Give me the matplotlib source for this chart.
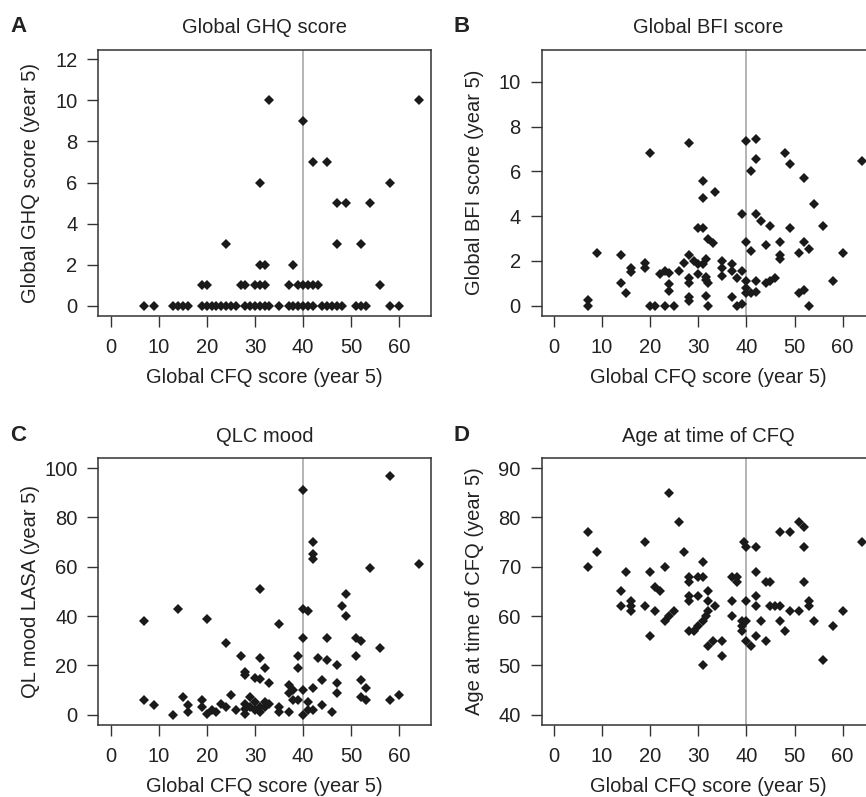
import matplotlib
matplotlib.use("Agg")
import matplotlib.pyplot as plt

plt.rcParams["font.family"] = ["Liberation Sans", "DejaVu Sans"]

# Panel A: Global GHQ score vs CFQ
ghq_x = [7, 9, 13, 14, 15, 16, 19, 20, 21, 22, 23, 24, 25, 26, 28, 29, 30, 31, 32, 33,
         35, 37, 38, 39, 40, 41, 42, 44, 45, 46, 47, 48, 51, 52, 53, 58, 60,
         19, 20, 27, 28, 30, 31, 32, 37, 39, 40, 41, 42, 43, 56,
         31, 32, 38,
         24, 47, 52,
         47, 49, 54,
         31, 58,
         42, 45,
         40,
         33, 64]
ghq_y = [0] * 37 + [1] * 14 + [2] * 3 + [3] * 3 + [5] * 3 + [6] * 2 + [7] * 2 + [9] + [10] * 2

# Panel B: Global BFI score vs CFQ
bfi_x = [7, 7, 9, 14, 14, 15, 16, 16, 19, 19, 20, 20, 21, 22, 23, 23, 24, 24, 24, 25,
         26, 27, 28, 28, 28, 28, 28, 28, 29, 30, 30, 30, 31, 31, 31, 31, 31.5, 31.5, 31.5, 31.5,
         32, 32, 32, 33, 33.5, 35, 35, 35, 37, 37, 37, 38, 38, 39, 39, 39, 40, 40, 40, 40,
         40, 41, 41, 41, 42, 42, 42, 42, 42, 43, 44, 44, 45, 45, 46, 47, 47, 47, 48, 49,
         49, 51, 51, 52, 52, 52, 53, 53, 54, 56, 58, 60, 64]
bfi_y = [0.25, 0, 2.35, 1.0, 2.25, 0.55, 1.7, 1.5, 1.9, 1.7, 6.8, 0, 0, 1.4, 1.55, 0, 1.45, 0.95, 0.65, 0,
         1.55, 1.9, 7.25, 2.25, 1.25, 1.0, 0.4, 0.2, 2.0, 1.85, 3.45, 1.4, 5.55, 4.8, 3.45, 1.85, 1.3, 1.15, 2.1, 0.45,
         3.0, 1.0, 0, 2.8, 5.1, 2.0, 1.7, 1.35, 1.85, 1.55, 0.4, 1.25, 0, 4.1, 1.55, 0.1, 7.35, 2.85, 1.1, 0.8,
         0.55, 6.0, 2.45, 0.55, 7.45, 6.55, 4.1, 1.1, 0.6, 3.8, 2.7, 1.0, 3.55, 1.1, 1.25, 2.85, 2.25, 2.1, 6.8, 6.35,
         3.45, 2.35, 0.55, 5.7, 2.85, 0.7, 2.55, 0, 4.55, 3.55, 1.1, 2.35, 6.45]

# Panel C: QLC mood (QL mood LASA) vs CFQ
mood_x = [7, 7, 9, 13, 14, 15, 16, 16, 19, 19, 20, 20, 21, 22, 23, 24, 24, 25, 26, 27,
          28, 28, 28, 28, 28, 29, 29, 30, 30, 30, 31, 31, 31, 31, 31, 32, 32, 32, 33, 33,
          35, 35, 35, 37, 37, 37, 38, 38, 39, 39, 39, 40, 40, 40, 40, 40, 41, 41, 41, 42,
          42, 42, 42, 42, 43, 44, 44, 45, 45, 46, 47, 47, 47, 48, 49, 49, 51, 51, 52, 52,
          52, 53, 53, 54, 56, 58, 58, 60, 64]
mood_y = [38, 6, 4, 0, 43, 7, 4, 1, 6, 3, 39, 0.5, 2, 1, 4.5, 3, 29, 8, 2, 24,
          17.5, 16, 4.5, 2.5, 0.5, 7, 3, 15, 5, 2, 14.5, 23, 51, 3, 1, 19, 5, 3, 13, 4.5,
          37, 3, 1, 12, 9, 1, 10, 6, 24, 19, 6, 91, 43, 31, 10, 0, 42, 5, 2, 70,
          65, 63, 11, 2, 23, 14, 4, 31, 22, 1, 20, 13, 9, 44, 49, 40, 31, 24, 30, 14,
          7, 11, 6, 59.5, 27, 97, 6, 8, 61]

# Panel D: age at time of CFQ vs CFQ
age_x = [7, 7, 9, 14, 14, 15, 16, 16, 16, 19, 19, 20, 20, 21, 21, 22, 23, 23, 24, 24,
         25, 26, 27, 28, 28, 28, 28, 28, 29, 30, 30, 31, 30, 31, 31, 31.5, 32, 32, 32, 32,
         31, 33.5, 33, 35, 35, 37, 38, 38, 37, 37, 39, 39, 39, 40, 40, 39.5, 40, 42, 42, 44,
         45, 42, 42, 43, 40, 41, 42, 44, 45, 46, 47, 47, 49, 51, 52, 52, 52, 53, 53, 49,
         51, 47, 48, 54, 58, 60, 56, 64]
age_y = [77, 70, 73, 65, 62, 69, 63, 62, 61, 75, 62, 69, 56, 66, 61, 65, 70, 59, 85, 60,
         61, 79, 73, 68, 67, 64, 63, 57, 57, 58, 68, 68, 64, 71, 59, 60, 61, 65, 63, 54,
         50, 62, 55, 55, 52, 68, 68, 67, 63, 60, 59, 58, 57, 59, 63, 75, 74, 74, 69, 67,
         67, 64, 62, 59, 55, 54, 56, 55, 62, 62, 62, 77, 77, 79, 78, 74, 67, 63, 62, 61,
         61, 59, 57, 59, 58, 61, 51, 75]

panels = [
    ("A", "Global GHQ score", "Global GHQ score (year 5)", ghq_x, ghq_y, (0, 12), range(0, 13, 2)),
    ("B", "Global BFI score", "Global BFI score (year 5)", bfi_x, bfi_y, (0, 11), range(0, 11, 2)),
    ("C", "QLC mood", "QL mood LASA (year 5)", mood_x, mood_y, (0, 100), range(0, 101, 20)),
    ("D", "Age at time of CFQ", "Age at time of CFQ (year 5)", age_x, age_y, (40, 90), range(40, 91, 10)),
]

W, H = 866, 797
fig = plt.figure(figsize=(W / 100, H / 100), dpi=100)

# pixel boxes (left, top, right, bottom)
boxes = [(98.3, 49.5, 430.9, 315.6), (541.7, 49.5, 874.2, 315.6),
         (98.3, 458.3, 430.9, 724.6), (541.7, 458.3, 874.2, 724.6)]

fs = 14.5
for (letter, title, ylab, xs, ys, ylim, yt), (l, t, r, b) in zip(panels, boxes):
    ax = fig.add_axes([l / W, 1 - b / H, (r - l) / W, (b - t) / H])
    ax.axvline(40, color="#a8a8a8", lw=1.2, zorder=1)
    ax.plot(xs, ys, linestyle="none", marker="D", markersize=4.6,
            color="#1a1a1a", markeredgewidth=0, zorder=3)
    span = 64
    ax.set_xlim(0 - 0.04 * span, 64 + 0.04 * span)
    yr = ylim[1] - ylim[0]
    ax.set_ylim(ylim[0] - 0.04 * yr, ylim[1] + 0.04 * yr)
    ax.set_xticks(range(0, 61, 10))
    ax.set_yticks(list(yt))
    ax.tick_params(direction="out", length=8, width=1, color="#333333",
                   labelsize=fs, pad=7, labelcolor="#222222")
    ax.tick_params(axis="x", pad=8)
    for s in ax.spines.values():
        s.set_linewidth(1.1)
        s.set_color("#333333")
    ax.set_title(title, fontsize=fs, pad=12, color="#222222")
    ax.set_xlabel("Global CFQ score (year 5)", fontsize=fs, labelpad=8, color="#222222")
    ax.set_ylabel(ylab, fontsize=fs, color="#222222")
    # fixed label line, like R's mtext, independent of tick label width
    ax.yaxis.set_label_coords(-58 / (r - l), 0.5)
    fig.text((l - 88) / W, 1 - 27 / H if t < 100 else 1 - 436 / H, letter,
             fontsize=fs + 1.5, fontweight="bold", va="center", ha="left", color="#222222")

fig.savefig("out.png", dpi=100)
